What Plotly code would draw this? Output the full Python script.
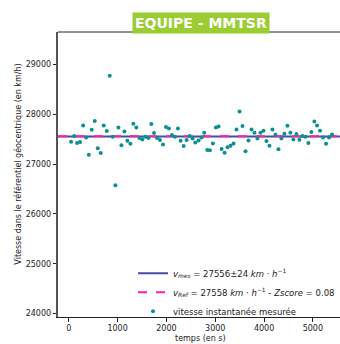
import plotly.graph_objects as go

# measured instantaneous speeds (time in s, speed in km/h)
temps = [48, 110, 171, 232, 294, 355, 410, 471, 532, 594, 655, 716, 778, 839, 900,
         955, 1016, 1078, 1139, 1200, 1262, 1323, 1384, 1446, 1507, 1568, 1630, 1691,
         1746, 1807, 1868, 1930, 1991, 2052, 2114, 2175, 2236, 2291, 2352, 2414, 2475,
         2536, 2591, 2659, 2720, 2775, 2836, 2891, 2952, 3014, 3068, 3130, 3191, 3252,
         3314, 3375, 3436, 3498, 3559, 3620, 3681, 3743, 3804, 3865, 3927, 3988, 4049,
         4111, 4172, 4233, 4295, 4356, 4417, 4479, 4540, 4601, 4663, 4724, 4785, 4847,
         4908, 4969, 5031, 5085, 5147, 5208, 5270, 5331, 5393]
vitesses = [27450, 27564, 27424, 27444, 27777, 27537, 27190, 27690, 27864, 27317,
            27224, 27777, 27664, 28777, 27550, 26577, 27737, 27377, 27657, 27470,
            27410, 27810, 27737, 27524, 27497, 27550, 27524, 27804, 27624, 27524,
            27484, 27397, 27744, 27717, 27584, 27550, 27717, 27470, 27364, 27484,
            27564, 27517, 27437, 27477, 27537, 27630, 27284, 27277, 27417, 27737,
            27757, 27304, 27230, 27337, 27370, 27417, 27697, 28057, 27764, 27257,
            27477, 27697, 27630, 27517, 27630, 27670, 27464, 27370, 27697, 27590,
            27297, 27517, 27610, 27770, 27630, 27497, 27604, 27490, 27564, 27550,
            27424, 27644, 27857, 27777, 27670, 27537, 27410, 27537, 27597]

v_mes = 27556
v_mes_err = 24
v_ref = 27558
zscore = 0.08

x_range = [-221, 5556]
y_range = [23930, 29654]
x_ticks = [0, 1000, 2000, 3000, 4000, 5000]
y_ticks = [24000, 25000, 26000, 27000, 28000, 29000]

FONT = "DejaVu Sans"

fig = go.Figure()
fig.add_trace(go.Scatter(
    x=x_range, y=[v_mes, v_mes], mode="lines",
    line=dict(color="#4a4aaa", width=2),
    name=f"<i>v</i><sub><i>mes</i></sub> = {v_mes}±{v_mes_err} <i>km</i> · <i>h</i><sup>−1</sup>",
))
fig.add_trace(go.Scatter(
    x=x_range, y=[v_ref, v_ref], mode="lines",
    line=dict(color="#ff1fa5", width=2, dash="dash"),
    name=f"<i>v</i><sub><i>Ref</i></sub> = {v_ref} <i>km</i> · <i>h</i><sup>−1</sup> - <i>Zscore</i> = {zscore}",
))
fig.add_trace(go.Scatter(
    x=temps, y=vitesses, mode="markers",
    marker=dict(color="#0a9090", size=4),
    name="vitesse instantanée mesurée",
))

fig.update_layout(
    width=340, height=344,
    margin=dict(l=58, r=0, t=32, b=27),
    paper_bgcolor="white", plot_bgcolor="white",
    font=dict(family=FONT, size=8, color="#222"),
    showlegend=True,
    legend=dict(
        x=1.0, y=0.087, xanchor="right", yanchor="middle",
        bgcolor="rgba(255,255,255,0)", font=dict(family=FONT, size=8.5, color="#222"),
        itemwidth=30, tracegroupgap=0,
    ),
    xaxis=dict(
        range=x_range, tickvals=x_ticks, ticktext=[str(v) for v in x_ticks],
        showgrid=False, zeroline=False,
        showline=True, linecolor="#222", linewidth=1,
        ticks="outside", ticklen=3.5, tickcolor="#222",
        tickfont=dict(family=FONT, size=8),
    ),
    yaxis=dict(
        range=y_range, tickvals=y_ticks, ticktext=[str(v) for v in y_ticks],
        showgrid=False, zeroline=False,
        showline=True, linecolor="#555", linewidth=1.5,
        ticks="outside", ticklen=3.5, tickcolor="#222",
        tickfont=dict(family=FONT, size=8),
    ),
    shapes=[dict(type="line", xref="paper", yref="paper", x0=0, x1=1, y0=1, y1=1,
                 line=dict(color="#222", width=1))],
    annotations=[
        dict(text="<b>EQUIPE - MMTSR</b>", xref="paper", yref="paper",
             x=0.507, y=1.03, xanchor="center", yanchor="middle", showarrow=False,
             font=dict(family=FONT, size=14, color="white"),
             bgcolor="#9acd32", borderpad=2),
        dict(text="Vitesse dans le référentiel géocentrique (en km/h)",
             xref="paper", yref="paper", x=-0.145, y=0.535, textangle=-90,
             xanchor="center", yanchor="middle", showarrow=False,
             font=dict(family=FONT, size=8, color="#222")),
        dict(text="temps (en s)", xref="paper", yref="paper",
             x=0.507, y=-0.075, xanchor="center", yanchor="middle", showarrow=False,
             font=dict(family=FONT, size=8, color="#222")),
    ],
)

fig.write_html("out.html")
